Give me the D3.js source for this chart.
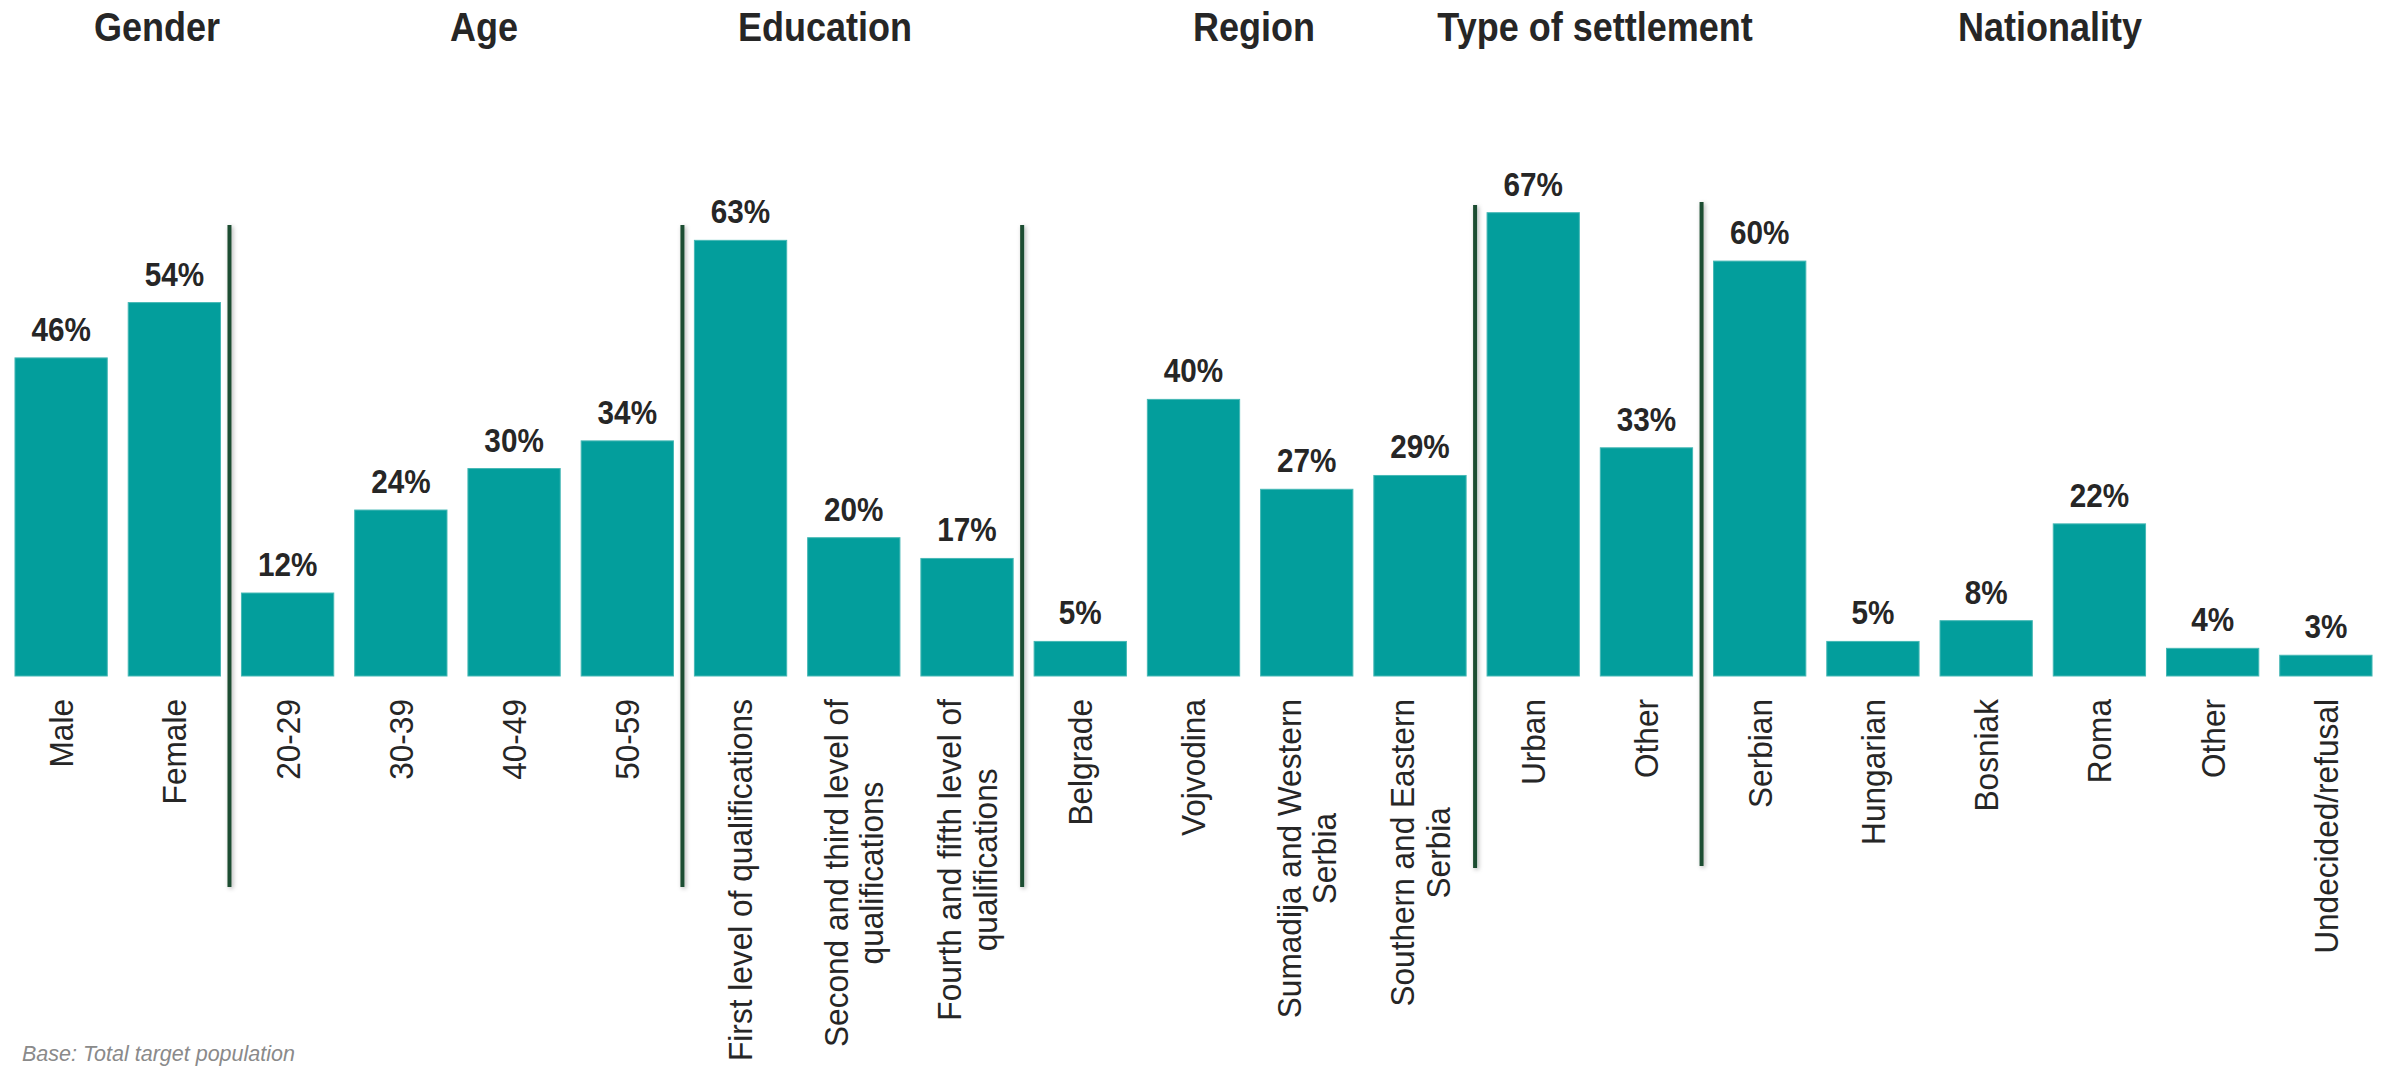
<!DOCTYPE html>
<html>
<head>
<meta charset="utf-8">
<script src="https://cdn.jsdelivr.net/npm/d3@7"></script>
<style>
  html, body { margin: 0; padding: 0; background: #ffffff; }
  svg { display: block; }
  text { font-family: "Liberation Sans", Arial, Helvetica, sans-serif; }
</style>
</head>
<body>
<svg id="chart" width="2385" height="1067"></svg>
<script>
// Profile of the target population, share of each category (%)
const groups = ["Gender", "Age", "Education", "Region", "Type of settlement", "Nationality"];
const groupSizes = [2, 4, 3, 4, 2, 6];
const categories = [
  "Male", "Female",
  "20-29", "30-39", "40-49", "50-59",
  "First level of qualifications",
  "Second and third level of\nqualifications",
  "Fourth and fifth level of\nqualifications",
  "Belgrade", "Vojvodina", "Sumadija and Western\nSerbia", "Southern and Eastern\nSerbia",
  "Urban", "Other",
  "Serbian", "Hungarian", "Bosniak", "Roma", "Other", "Undecided/refusal"
];
const values = [
  46, 54,
  12, 24, 30, 34,
  63, 20, 17,
  5, 40, 27, 29,
  67, 33,
  60, 5, 8, 22, 4, 3
];
const footnote = "Base: Total target population";

// ---- layout ----
const baseY = 676;
const headerX = [157, 484, 825, 1254, 1595, 2050];
const dividerSpans = [[225, 887], [225, 887], [225, 887], [205, 868], [202, 866]];
const barColor = "#039e9c";
const barEdge = "#46b8b5";
const textColor = "#262626";
const dividerColor = "#1f4d30";
const squeeze = 0.9;

const svg = d3.select("#chart");

const defs = svg.append("defs");
const shadow = defs.append("filter").attr("id", "divShadow")
  .attr("filterUnits", "userSpaceOnUse")
  .attr("x", 0).attr("y", 0).attr("width", 2385).attr("height", 1067);
shadow.append("feDropShadow")
  .attr("dx", 1.5).attr("dy", 1.5).attr("stdDeviation", 2)
  .attr("flood-color", "#000").attr("flood-opacity", 0.3);

const idx = d3.range(values.length);

const x = d3.scaleBand()
  .domain(idx)
  .range([4.5, 2382.5])
  .paddingInner(0.185)
  .paddingOuter(0.0925);

const y = d3.scaleLinear()
  .domain([0, 100])
  .range([baseY, baseY - 691.5]);

// bars
svg.append("g").selectAll("rect")
  .data(idx)
  .join("rect")
  .attr("x", i => x(i))
  .attr("y", i => y(values[i]))
  .attr("width", x.bandwidth())
  .attr("height", i => y(0) - y(values[i]))
  .attr("fill", barColor)
  .attr("stroke", barEdge)
  .attr("stroke-width", 1);

// value labels
svg.append("g").selectAll("text")
  .data(idx)
  .join("text")
  .attr("transform", i => `translate(${x(i) + x.bandwidth() / 2},${y(values[i]) - 17}) scale(${squeeze},1)`)
  .attr("text-anchor", "middle")
  .attr("font-size", 33)
  .attr("font-weight", "bold")
  .attr("fill", textColor)
  .text(i => values[i] + "%");

// category axis with rotated, possibly two-line labels
const axis = svg.append("g")
  .attr("transform", `translate(0,${baseY})`)
  .call(d3.axisBottom(x).tickSize(0).tickFormat(() => ""));
axis.select(".domain").remove();
axis.selectAll(".tick text").remove();

const labelTop = 699;
const lineGap = 35.5;
axis.selectAll(".tick").each(function (i) {
  const lines = categories[i].split("\n");
  const t = d3.select(this).append("text")
    .attr("text-anchor", "middle")
    .attr("font-size", 34)
    .attr("fill", textColor)
    .attr("transform", `translate(0,${labelTop - baseY}) rotate(-90) scale(0.93,1)`);
  const spans = lines.map((ln, k) => t.append("tspan")
    .attr("y", (k - (lines.length - 1) / 2) * lineGap)
    .text(ln));
  const maxLen = d3.max(spans, s => s.node().getComputedTextLength());
  spans.forEach(s => s.attr("x", -maxLen / 2).attr("dy", "0.35em"));
});

// group separators
const ends = d3.cumsum(groupSizes);
const sepX = k => x(ends[k] - 1) + x.bandwidth() + (x.step() - x.bandwidth()) / 2 - 1.5;
svg.append("g").selectAll("rect")
  .data(dividerSpans)
  .join("rect")
  .attr("x", (d, k) => sepX(k) - 2)
  .attr("y", d => d[0])
  .attr("width", 4)
  .attr("height", d => d[1] - d[0])
  .attr("fill", dividerColor)
  .attr("filter", "url(#divShadow)");

// group headers
svg.append("g").selectAll("text")
  .data(groups)
  .join("text")
  .attr("transform", (d, k) => `translate(${headerX[k]},41) scale(${squeeze},1)`)
  .attr("text-anchor", "middle")
  .attr("font-size", 40)
  .attr("font-weight", "bold")
  .attr("fill", textColor)
  .text(d => d);

// base note
svg.append("text")
  .attr("x", 22)
  .attr("y", 1061)
  .attr("font-size", 21.5)
  .attr("font-style", "italic")
  .attr("fill", "#8a8a8a")
  .text(footnote);
</script>
</body>
</html>
